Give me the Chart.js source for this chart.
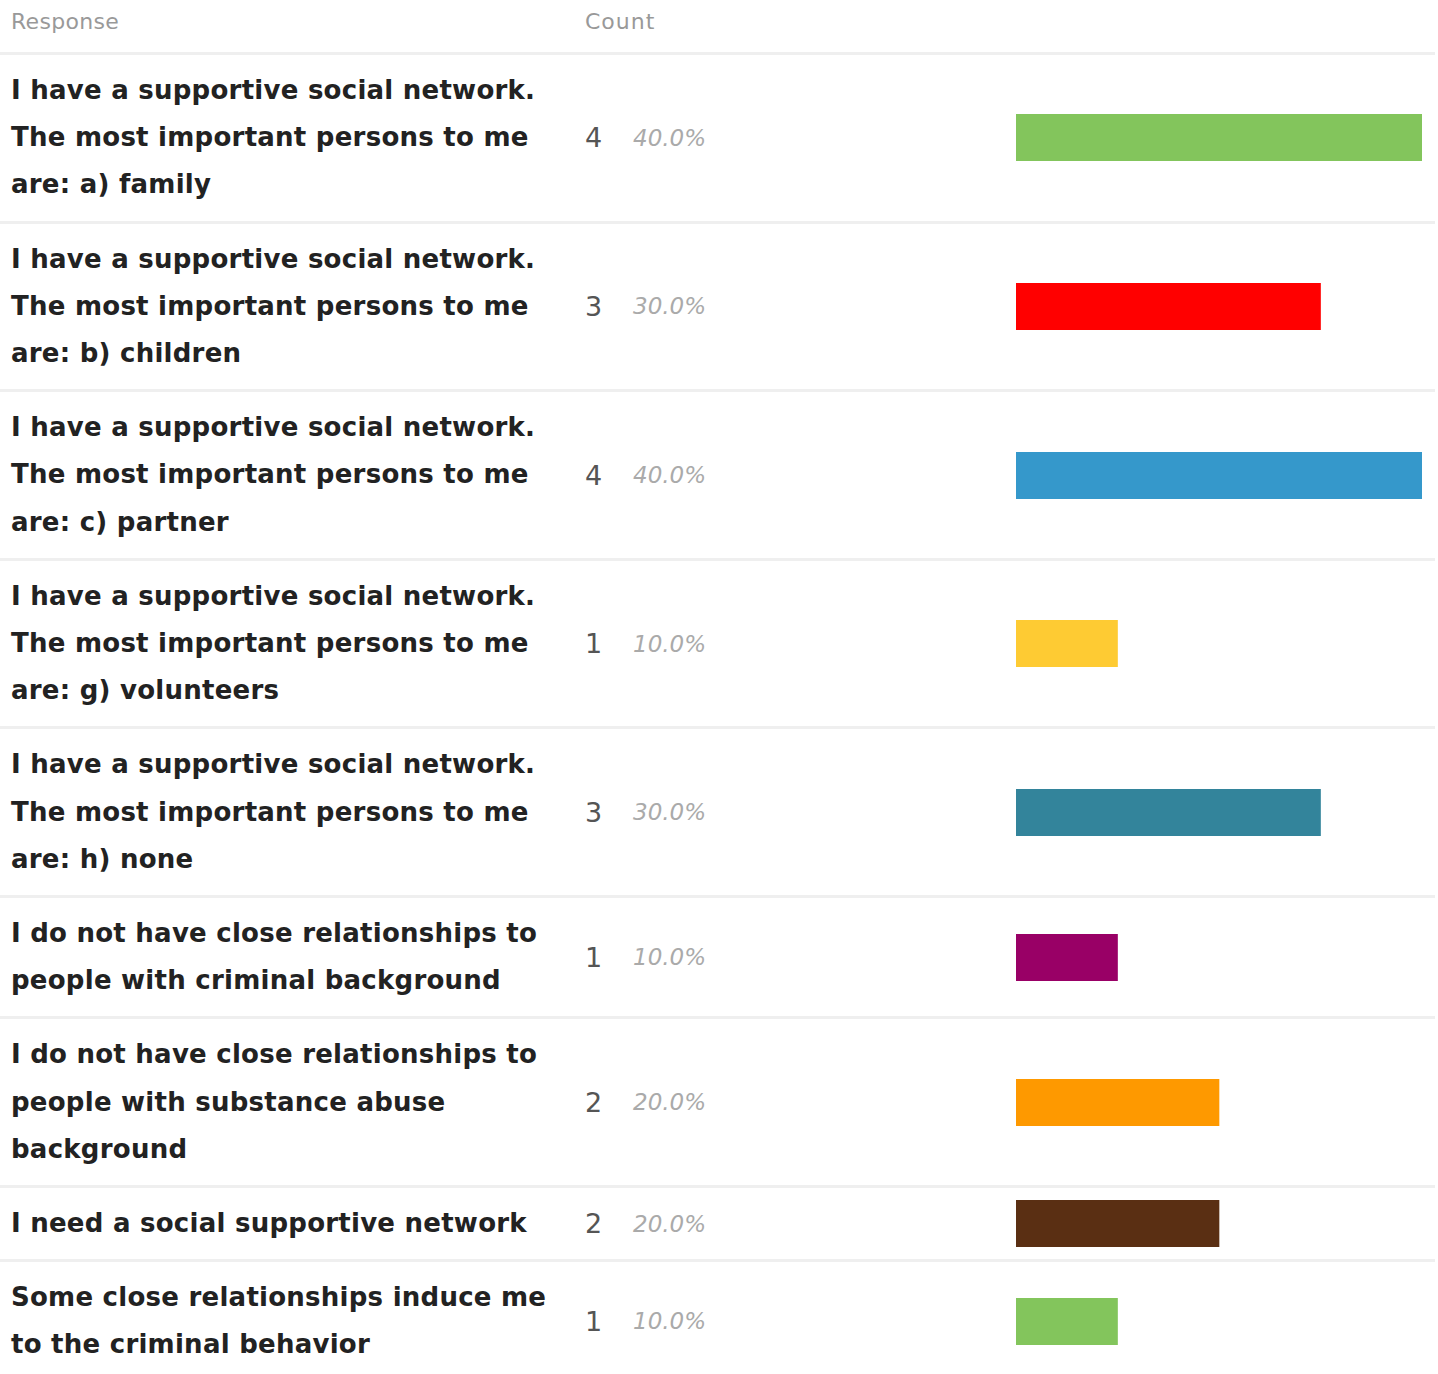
<!DOCTYPE html>
<html lang="en">
<head>
    <meta charset="UTF-8">
    <title>Responses</title>
    <script src="https://cdn.jsdelivr.net/npm/chart.js"></script>
    <style>
        body {
            margin: 0;
            background: #fff;
            font-family: "DejaVu Sans", Verdana, sans-serif;
        }
        .table { width: 1435px; }
        .row {
            display: flex;
            align-items: center;
            border-bottom: 3px solid #efefef;
        }
        .head {
            color: #999;
            font-size: 22px;
            line-height: 44px;
            padding-bottom: 8px;
            letter-spacing: 0.3px;
        }
        .resp {
            width: 585px;
            box-sizing: border-box;
            padding: 12px 30px 12px 11px;
        }
        .row.body .resp {
            font-weight: bold;
            font-size: 26px;
            line-height: 47.2px;
            letter-spacing: 0.25px;
            color: #222;
        }
        .count { width: 48px; font-size: 27px; color: #555; }
        .pct { width: 383px; font-size: 23px; font-style: italic; color: #aaa; }
        .bar { width: 406px; height: 47px; position: relative; }
    </style>
</head>
<body>
    <div class="table" id="table">
        <div class="row head">
            <div class="resp" style="padding-top:0;padding-bottom:0">Response</div>
            <div style="width:200px;letter-spacing:1px">Count</div>
        </div>
    </div>

    <script>
        // answers
        const responses = [
            'I have a supportive social network. The most important persons to me are: a) family',
            'I have a supportive social network. The most important persons to me are: b) children',
            'I have a supportive social network. The most important persons to me are: c) partner',
            'I have a supportive social network. The most important persons to me are: g) volunteers',
            'I have a supportive social network. The most important persons to me are: h) none',
            'I do not have close relationships to people with criminal background',
            'I do not have close relationships to people with substance abuse background',
            'I need a social supportive network',
            'Some close relationships induce me to the criminal behavior'
        ];
        const counts = [4, 3, 4, 1, 3, 1, 2, 2, 1];
        const percents = [40.0, 30.0, 40.0, 10.0, 30.0, 10.0, 20.0, 20.0, 10.0];
        const barColors = ['#83c55c', '#ff0000', '#3598cb', '#fecb33', '#33849b',
                           '#990066', '#fe9900', '#5a2f13', '#83c55c'];

        const maxCount = Math.max(...counts);
        const table = document.getElementById('table');

        responses.forEach((label, i) => {
            const row = document.createElement('div');
            row.className = 'row body';
            row.innerHTML =
                '<div class="resp"></div>' +
                '<div class="count">' + counts[i] + '</div>' +
                '<div class="pct">' + percents[i].toFixed(1) + '%</div>' +
                '<div class="bar"><canvas></canvas></div>';
            row.querySelector('.resp').textContent = label;
            table.appendChild(row);

            new Chart(row.querySelector('canvas'), {
                type: 'bar',
                data: {
                    labels: [label],
                    datasets: [{
                        data: [counts[i]],
                        backgroundColor: barColors[i],
                        borderWidth: 0,
                        barPercentage: 1,
                        categoryPercentage: 1
                    }]
                },
                options: {
                    indexAxis: 'y',
                    responsive: true,
                    maintainAspectRatio: false,
                    animation: false,
                    layout: { padding: 0 },
                    plugins: {
                        legend: { display: false },
                        tooltip: { enabled: false }
                    },
                    scales: {
                        x: { display: false, min: 0, max: maxCount },
                        y: { display: false }
                    }
                }
            });
        });
    </script>
</body>
</html>
